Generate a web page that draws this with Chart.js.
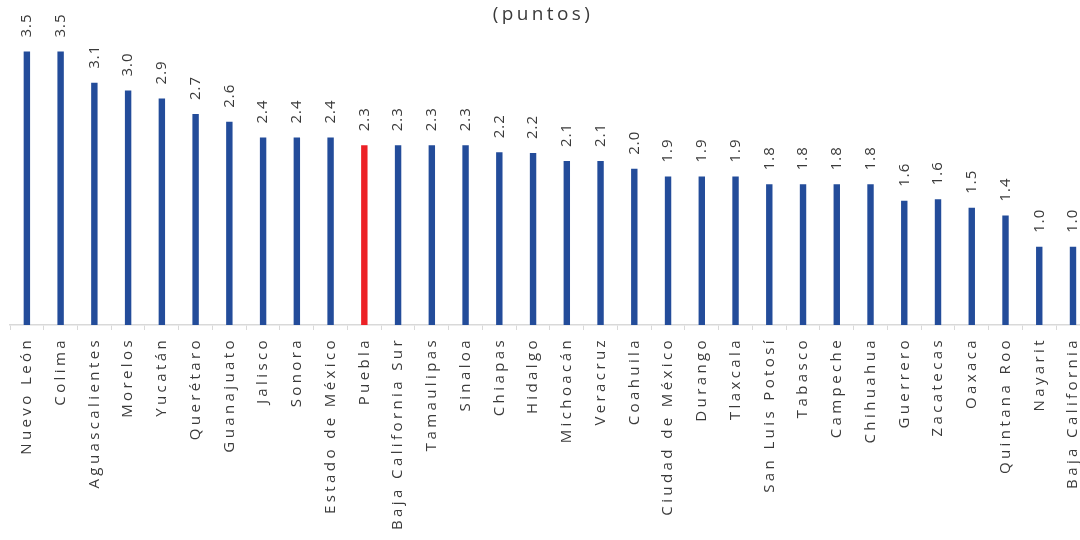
<!DOCTYPE html>
<html>
<head>
<meta charset="utf-8">
<script src="https://cdn.jsdelivr.net/npm/chart.js@4"></script>
<style>
  html, body { margin: 0; padding: 0; background: #fff; overflow: hidden; }
  #wrap { width: 1098px; height: 540px; position: relative; }
</style>
</head>
<body>
<div id="wrap"><canvas id="c"></canvas></div>
<script>
const titleText = '(puntos)';
const categories = ['Nuevo León','Colima','Aguascalientes','Morelos','Yucatán','Querétaro','Guanajuato','Jalisco','Sonora','Estado de México','Puebla','Baja California Sur','Tamaulipas','Sinaloa','Chiapas','Hidalgo','Michoacán','Veracruz','Coahuila','Ciudad de México','Durango','Tlaxcala','San Luis Potosí','Tabasco','Campeche','Chihuahua','Guerrero','Zacatecas','Oaxaca','Quintana Roo','Nayarit','Baja California'];
const values = [3.5,3.5,3.1,3.0,2.9,2.7,2.6,2.4,2.4,2.4,2.3,2.3,2.3,2.3,2.21,2.2,2.1,2.1,2.0,1.9,1.9,1.9,1.8,1.8,1.8,1.8,1.59,1.61,1.5,1.4,1.0,1.0];
const highlighted = ['Puebla'];

const BLUE = '#234C9A';
const RED = '#EC2126';
const TEXT = '#3A3A3A';
const FONT = "'Open Sans', sans-serif";

const barColors = categories.map(c => highlighted.includes(c) ? RED : BLUE);

const spacingPlugin = {
  id: 'spacing',
  beforeUpdate(chart) { chart.ctx.letterSpacing = '3.4px'; },
  beforeDraw(chart) { chart.ctx.letterSpacing = '3.4px'; }
};

const titlePlugin = {
  id: 'centerTitle',
  afterDraw(chart) {
    const ctx = chart.ctx;
    ctx.save();
    ctx.font = '19px ' + FONT;
    ctx.fillStyle = TEXT;
    ctx.letterSpacing = '3.4px';
    ctx.textAlign = 'center';
    ctx.textBaseline = 'middle';
    ctx.fillText(titleText, 543, 15);
    ctx.restore();
  }
};

const valueLabels = {
  id: 'valueLabels',
  afterDatasetsDraw(chart) {
    const ctx = chart.ctx;
    const meta = chart.getDatasetMeta(0);
    ctx.save();
    ctx.font = '15px ' + FONT;
    ctx.fillStyle = TEXT;
    ctx.letterSpacing = '1px';
    meta.data.forEach((bar, i) => {
      ctx.save();
      ctx.translate(bar.x, bar.y - 14);
      ctx.rotate(-Math.PI / 2);
      ctx.textAlign = 'left';
      ctx.textBaseline = 'middle';
      ctx.fillText(values[i].toFixed(1), 0, 0);
      ctx.restore();
    });
    ctx.restore();
  }
};

new Chart(document.getElementById('c'), {
  type: 'bar',
  data: {
    labels: categories,
    datasets: [{
      data: values,
      backgroundColor: barColors,
      borderWidth: 0,
      barPercentage: 0.19,
      categoryPercentage: 1.0
    }]
  },
  options: {
    responsive: true,
    maintainAspectRatio: false,
    animation: false,
    layout: { padding: { left: 10, right: 0, top: 32, bottom: 0 } },
    plugins: {
      legend: { display: false },
      tooltip: { enabled: false },
      title: { display: false }
    },
    scales: {
      x: {
        grid: {
          display: true,
          offset: true,
          drawOnChartArea: false,
          drawTicks: true,
          tickLength: 5,
          color: '#D9D9D9'
        },
        border: { display: true, color: '#D9D9D9', width: 1.5 },
        ticks: {
          color: TEXT,
          font: { family: FONT, size: 15 },
          minRotation: 90,
          maxRotation: 90,
          autoSkip: false,
          padding: 7
        },
        afterFit(scale) { scale.height = 215; }
      },
      y: {
        display: false,
        min: 0,
        max: 3.75
      }
    }
  },
  plugins: [spacingPlugin, titlePlugin, valueLabels]
});
</script>
</body>
</html>
